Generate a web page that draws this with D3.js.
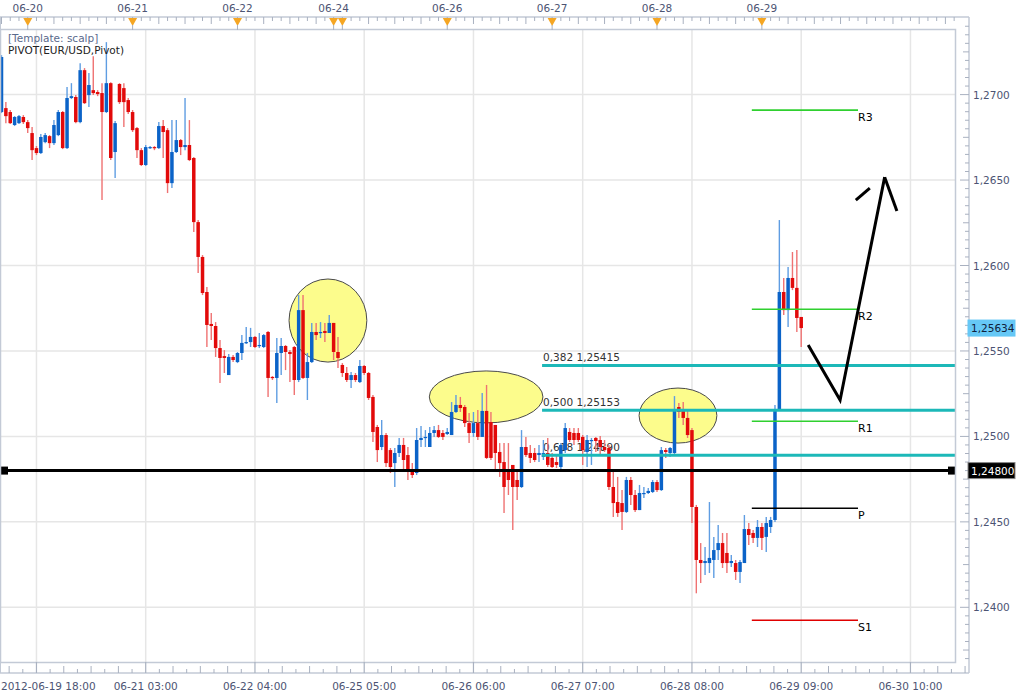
<!DOCTYPE html>
<html><head><meta charset="utf-8">
<script src="https://cdn.jsdelivr.net/npm/d3@7"></script>
<style>body{margin:0;background:#fff}svg{display:block}text{font-family:"DejaVu Sans",Verdana,sans-serif}</style>
</head><body><svg id="c" width="1024" height="697"></svg>
<script>
// ---- data (hourly EUR/USD bars, index 0 = first bar) ----
const open=[1.26898,1.26921,1.26898,1.26822,1.26833,1.26869,1.26839,1.26775,1.26687,1.26658,1.26722,1.26757,1.26716,1.26763,1.26898,1.26687,1.26980,1.26986,1.26839,1.27143,1.26997,1.27026,1.27015,1.27009,1.26898,1.27067,1.26664,1.27062,1.27038,1.26968,1.26898,1.26804,1.26675,1.26588,1.26687,1.26693,1.26687,1.26816,1.26792,1.26482,1.26664,1.26734,1.26693,1.26705,1.26629,1.26254,1.26050,1.25845,1.25658,1.25646,1.25517,1.25470,1.25359,1.25465,1.25435,1.25488,1.25547,1.25552,1.25582,1.25529,1.25523,1.25611,1.25348,1.25342,1.25488,1.25529,1.25494,1.25523,1.25330,1.25739,1.25342,1.25435,1.25611,1.25605,1.25617,1.25605,1.25664,1.25494,1.25418,1.25371,1.25330,1.25359,1.25318,1.25412,1.25371,1.25231,1.25055,1.24938,1.25008,1.24920,1.24844,1.24903,1.24950,1.24891,1.24803,1.24786,1.24979,1.24991,1.24938,1.25020,1.25037,1.25020,1.25014,1.25008,1.25143,1.25184,1.25172,1.25078,1.25020,1.25078,1.24997,1.25149,1.25084,1.25067,1.24909,1.24850,1.24803,1.24833,1.24745,1.24704,1.24938,1.24903,1.24903,1.24891,1.24880,1.24903,1.24874,1.24850,1.24821,1.24920,1.25026,1.25020,1.25020,1.24997,1.24909,1.24973,1.24991,1.24979,1.24938,1.24932,1.24704,1.24616,1.24610,1.24558,1.24745,1.24657,1.24569,1.24663,1.24669,1.24675,1.24733,1.24686,1.24920,1.24903,1.24903,1.25172,1.25154,1.25108,1.25037,1.24587,1.24277,1.24259,1.24259,1.24277,1.24335,1.24376,1.24318,1.24259,1.24259,1.24207,1.24259,1.24458,1.24435,1.24406,1.24470,1.24412,1.24470,1.24511,1.25154,1.25845,1.25739,1.25927,1.25869,1.25699];
const high=[1.27231,1.26956,1.26910,1.26874,1.26880,1.26880,1.26851,1.26810,1.26699,1.26769,1.26775,1.26763,1.26851,1.26910,1.26904,1.27044,1.27067,1.26997,1.27184,1.27155,1.27126,1.27225,1.27026,1.27067,1.27307,1.27073,1.26845,1.27067,1.27067,1.26980,1.26910,1.26810,1.26687,1.26705,1.26699,1.26699,1.26839,1.26851,1.26804,1.26851,1.26851,1.26740,1.26980,1.26851,1.26635,1.26266,1.26061,1.25874,1.25722,1.25669,1.25564,1.25505,1.25482,1.25476,1.25494,1.25593,1.25640,1.25635,1.25587,1.25605,1.25599,1.25617,1.25353,1.25576,1.25576,1.25535,1.25505,1.25529,1.25827,1.25827,1.25488,1.25664,1.25664,1.25669,1.25664,1.25710,1.25664,1.25582,1.25429,1.25406,1.25377,1.25371,1.25447,1.25418,1.25377,1.25242,1.25067,1.25096,1.25020,1.24932,1.24932,1.24991,1.24991,1.24938,1.24844,1.25049,1.25061,1.25037,1.25055,1.25061,1.25067,1.25037,1.25049,1.25201,1.25242,1.25231,1.25184,1.25137,1.25143,1.25154,1.25254,1.25301,1.25143,1.25067,1.24961,1.24961,1.24961,1.24833,1.24803,1.25037,1.24997,1.24950,1.24932,1.24950,1.24979,1.24991,1.24903,1.24891,1.24961,1.25078,1.25049,1.25049,1.25049,1.25008,1.25008,1.24991,1.24997,1.25002,1.24979,1.24950,1.24803,1.24763,1.24686,1.24763,1.24763,1.24686,1.24716,1.24704,1.24698,1.24745,1.24745,1.24938,1.24932,1.24938,1.25236,1.25196,1.25201,1.25154,1.25049,1.24599,1.24376,1.24353,1.24616,1.24412,1.24482,1.24435,1.24435,1.24306,1.24277,1.24277,1.24540,1.24493,1.24452,1.24511,1.24493,1.24529,1.24529,1.25184,1.26266,1.25927,1.25991,1.26079,1.26090,1.25699];
const low=[1.26892,1.26833,1.26828,1.26816,1.26828,1.26828,1.26775,1.26617,1.26646,1.26652,1.26716,1.26687,1.26705,1.26757,1.26681,1.26681,1.26974,1.26833,1.26833,1.26945,1.26927,1.26997,1.26991,1.26383,1.26892,1.26617,1.26512,1.26945,1.26810,1.26886,1.26781,1.26629,1.26582,1.26582,1.26681,1.26675,1.26681,1.26629,1.26424,1.26453,1.26658,1.26646,1.26675,1.26611,1.26196,1.25956,1.25827,1.25523,1.25564,1.25465,1.25312,1.25371,1.25359,1.25435,1.25429,1.25447,1.25541,1.25523,1.25517,1.25517,1.25517,1.25231,1.25330,1.25196,1.25359,1.25388,1.25318,1.25242,1.25318,1.25336,1.25213,1.25429,1.25564,1.25576,1.25552,1.25605,1.25447,1.25400,1.25348,1.25318,1.25283,1.25318,1.25312,1.25359,1.25213,1.24967,1.24850,1.24920,1.24821,1.24786,1.24704,1.24880,1.24792,1.24745,1.24757,1.24774,1.24938,1.24938,1.24938,1.24997,1.24991,1.24979,1.25008,1.25008,1.25137,1.25143,1.25055,1.24961,1.24997,1.24979,1.24997,1.24868,1.24862,1.24803,1.24763,1.24552,1.24657,1.24452,1.24628,1.24698,1.24880,1.24844,1.24850,1.24850,1.24862,1.24821,1.24815,1.24815,1.24809,1.24903,1.24967,1.24950,1.24967,1.24833,1.24821,1.24833,1.24909,1.24891,1.24909,1.24686,1.24529,1.24529,1.24452,1.24552,1.24599,1.24558,1.24569,1.24640,1.24663,1.24669,1.24675,1.24681,1.24874,1.24880,1.24897,1.25108,1.25067,1.24991,1.24493,1.24082,1.24142,1.24189,1.24201,1.24172,1.24277,1.24230,1.24201,1.24236,1.24160,1.24142,1.24259,1.24365,1.24376,1.24353,1.24335,1.24324,1.24435,1.24499,1.25149,1.25710,1.25640,1.25856,1.25611,1.25523];
const close=[1.27220,1.26874,1.26833,1.26869,1.26874,1.26839,1.26804,1.26675,1.26658,1.26752,1.26763,1.26716,1.26822,1.26898,1.26687,1.26980,1.26991,1.26839,1.27143,1.26950,1.27056,1.27009,1.27003,1.26898,1.27067,1.26629,1.26833,1.26956,1.26956,1.26898,1.26792,1.26675,1.26588,1.26693,1.26693,1.26687,1.26816,1.26781,1.26482,1.26664,1.26734,1.26693,1.26705,1.26617,1.26254,1.26050,1.25839,1.25652,1.25646,1.25517,1.25459,1.25459,1.25465,1.25447,1.25488,1.25547,1.25552,1.25582,1.25523,1.25535,1.25593,1.25342,1.25342,1.25488,1.25529,1.25494,1.25482,1.25330,1.25739,1.25342,1.25435,1.25611,1.25593,1.25611,1.25605,1.25664,1.25494,1.25459,1.25371,1.25330,1.25359,1.25330,1.25412,1.25371,1.25225,1.25026,1.24920,1.25008,1.24844,1.24821,1.24903,1.24950,1.24862,1.24803,1.24774,1.24979,1.24991,1.24997,1.25020,1.25037,1.24997,1.24997,1.25026,1.25143,1.25184,1.25166,1.25078,1.25020,1.25078,1.24997,1.25149,1.24874,1.24874,1.24903,1.24844,1.24704,1.24745,1.24704,1.24704,1.24938,1.24891,1.24874,1.24862,1.24903,1.24903,1.24833,1.24821,1.24833,1.24950,1.25049,1.24979,1.24979,1.24979,1.24920,1.24979,1.24979,1.24973,1.24938,1.24920,1.24704,1.24610,1.24552,1.24558,1.24745,1.24657,1.24569,1.24669,1.24669,1.24681,1.24733,1.24686,1.24920,1.24909,1.24932,1.25160,1.25143,1.25108,1.25008,1.24587,1.24277,1.24259,1.24271,1.24289,1.24335,1.24376,1.24259,1.24259,1.24271,1.24207,1.24265,1.24458,1.24423,1.24406,1.24470,1.24406,1.24493,1.24511,1.25154,1.25845,1.25739,1.25927,1.25869,1.25693,1.25634];

const priceTicks=[1.2400,1.2450,1.2500,1.2550,1.2600,1.2650,1.2700];
const bottomTickIdx=[8,33,58,83,108,133,158,183,208];
const bottomTickLabels=["2012-06-19 18:00","06-21 03:00","06-22 04:00","06-25 05:00","06-26 06:00","06-27 07:00","06-28 08:00","06-29 09:00","06-30 10:00"];
const dayMarkIdx=[6,30,54,76,78,102,126,150,174];
const dayMarkLabels=["06-20","06-21","06-22","06-24","","06-26","06-27","06-28","06-29"];

const hLinePrice=1.24800;
const lastPrice=1.25634;
const fibRatios=["0,382","0,500","0,618"];
const fibPrices=[1.25415,1.25153,1.24890];
const fibStartIdx=123.7;
const pivotNames=["R3","R2","R1","P","S1"];
const pivotPrices=[1.26909,1.25744,1.25089,1.24580,1.23924];
const pivotColors=["#2fd02f","#2fd02f","#2fd02f","#000000","#e00000"];
const pivotRange=[171.7,196.0];
// annotations: ellipses [centerIdx, centerPrice, radiusBars, radiusPrice]
const ellipses=[[74.7,1.25678,8.9,0.00243],[110.9,1.25231,13.0,0.00152],[154.8,1.25122,8.9,0.00161]];
const arrowShaft=[[184.6,1.25535],[191.9,1.25213],[202.1,1.26517]];
const arrowBarbR=[[202.1,1.26517],[204.9,1.26319]];
const arrowBarbL=[[195.5,1.26383],[198.7,1.26453]];

// ---- layout ----
const svg=d3.select("#c");
const L=0,R=956,T=30,B=662;
const x=d3.scaleLinear().domain([0,218.4]).range([1.5,955.9]);
const y=d3.scaleLinear().domain([1.23680,1.27378]).range([B,T]);
const fmt=v=>d3.format(".4f")(v).replace(".",",");
const fmt5=v=>d3.format(".5f")(v).replace(".",",");
const axisCol="#4d5473", frameCol="#c3cad6";

svg.append("defs").append("clipPath").attr("id","pc").append("rect").attr("x",L).attr("y",T).attr("width",R-L).attr("height",B-T);

// gridlines
const grid=svg.append("g");
grid.selectAll(".hg").data(priceTicks).join("line").attr("x1",L).attr("x2",R).attr("y1",d=>y(d)).attr("y2",d=>y(d)).attr("stroke","#e6e6e6").attr("stroke-width",1.5);
grid.selectAll(".vg").data(bottomTickIdx.filter(i=>x(i)<R)).join("line").attr("x1",d=>x(d)).attr("x2",d=>x(d)).attr("y1",T).attr("y2",B).attr("stroke","#e6e6e6").attr("stroke-width",1.5);

const plot=svg.append("g").attr("clip-path","url(#pc)");

// ellipses
plot.selectAll(".el").data(ellipses).join("ellipse")
 .attr("cx",d=>x(d[0])).attr("cy",d=>y(d[1]))
 .attr("rx",d=>x(d[2])-x(0)).attr("ry",d=>y(0)-y(d[3]))
 .attr("fill","#fcfc8c").attr("stroke","#4a4a4a").attr("stroke-width",1);

// fib labels (under candles)
plot.selectAll(".fl").data(fibPrices).join("text")
 .attr("x",x(fibStartIdx)+1).attr("y",d=>y(d)-4).attr("font-size",10.5).attr("fill","#333")
 .text((d,i)=>fibRatios[i]+" "+fmt5(d));

// candles
const idx=d3.range(open.length);
const upC="#0b63c8", dnC="#e20a0a", upW="#5f9de2", dnW="#ef7272";
plot.selectAll(".wk").data(idx).join("line")
 .attr("x1",i=>x(i)).attr("x2",i=>x(i)).attr("y1",i=>y(high[i])).attr("y2",i=>y(low[i]))
 .attr("stroke",i=>close[i]>=open[i]?upW:dnW).attr("stroke-width",1.4);
plot.selectAll(".bd").data(idx).join("rect")
 .attr("x",i=>x(i)-1.75).attr("width",3.5)
 .attr("y",i=>y(Math.max(open[i],close[i])))
 .attr("height",i=>Math.max(1.2,Math.abs(y(open[i])-y(close[i]))))
 .attr("fill",i=>close[i]>=open[i]?upC:dnC);

// fib lines
plot.selectAll(".fib").data(fibPrices).join("line")
 .attr("x1",x(fibStartIdx)).attr("x2",R).attr("y1",d=>y(d)).attr("y2",d=>y(d))
 .attr("stroke","#1cb8b8").attr("stroke-width",3);

// pivot lines
plot.selectAll(".pv").data(pivotPrices).join("line")
 .attr("x1",x(pivotRange[0])).attr("x2",x(pivotRange[1])).attr("y1",d=>y(d)).attr("y2",d=>y(d))
 .attr("stroke",(d,i)=>pivotColors[i]).attr("stroke-width",1.6);
plot.selectAll(".pl").data(pivotPrices).join("text")
 .attr("x",x(pivotRange[1])).attr("y",d=>y(d)+11).attr("font-size",11).attr("fill","#000")
 .text((d,i)=>pivotNames[i]);

// horizontal line 1.24800
plot.append("line").attr("x1",L+4).attr("x2",R-4).attr("y1",y(hLinePrice)).attr("y2",y(hLinePrice)).attr("stroke","#000").attr("stroke-width",3);
plot.selectAll(".sq").data([L+4,R-4]).join("rect").attr("x",d=>d-4).attr("y",y(hLinePrice)-4).attr("width",8).attr("height",8).attr("fill","#000");

// arrow
const ln=d3.line().x(d=>x(d[0])).y(d=>y(d[1]));
[arrowShaft,arrowBarbR,arrowBarbL].forEach(p=>plot.append("path").attr("d",ln(p)).attr("fill","none").attr("stroke","#000").attr("stroke-width",3).attr("stroke-linejoin","miter"));

// frame
svg.append("rect").attr("x",L+0.5).attr("y",T-0.5).attr("width",R-L-1).attr("height",B-T+1).attr("fill","none").attr("stroke",frameCol).attr("stroke-width",1.5);
const AX=969, TOPY=17, BOTY=673;
svg.append("line").attr("x1",0).attr("x2",AX).attr("y1",TOPY).attr("y2",TOPY).attr("stroke",frameCol).attr("stroke-width",1.5);
svg.append("line").attr("x1",0).attr("x2",AX).attr("y1",BOTY).attr("y2",BOTY).attr("stroke",frameCol).attr("stroke-width",1.5);
svg.append("line").attr("x1",AX).attr("x2",AX).attr("y1",TOPY).attr("y2",BOTY).attr("stroke",frameCol).attr("stroke-width",1.5);
svg.append("line").attr("x1",0.5).attr("x2",0.5).attr("y1",TOPY).attr("y2",BOTY).attr("stroke",frameCol).attr("stroke-width",1);

// top axis ticks
const topT=d3.range(0,219,2).filter(i=>x(i)<AX);
svg.selectAll(".tt").data(topT).join("line").attr("x1",i=>x(i)).attr("x2",i=>x(i)).attr("y1",TOPY).attr("y2",i=>TOPY+(i%6===0?7:4)).attr("stroke","#a9b1c0").attr("stroke-width",1);
svg.selectAll(".tri").data(dayMarkIdx).join("path")
 .attr("d",i=>`M${x(i)-4.5},${TOPY+1}L${x(i)+4.5},${TOPY+1}L${x(i)},${TOPY+9}Z`).attr("fill","#f5a623");
svg.selectAll(".trl").data(dayMarkIdx).join("line").attr("x1",i=>x(i)).attr("x2",i=>x(i)).attr("y1",TOPY+8).attr("y2",T).attr("stroke","#a9b1c0").attr("stroke-width",1);
svg.selectAll(".tl").data(dayMarkIdx).join("text").attr("x",i=>x(i)).attr("y",12).attr("text-anchor","middle").attr("font-size",10.5).attr("fill",axisCol).text((d,i)=>dayMarkLabels[i]);

// bottom axis ticks
const minor=[];
for(let k=-1;k<bottomTickIdx.length;k++){for(let j=1;j<8;j++){const i=8+25*k+25*j/8; if(x(i)>0&&x(i)<AX) minor.push([i,j]);}}
svg.selectAll(".bmt").data(minor).join("line").attr("x1",d=>x(d[0])).attr("x2",d=>x(d[0])).attr("y1",BOTY).attr("y2",d=>BOTY-(d[1]%2===0?7:4)).attr("stroke","#a9b1c0").attr("stroke-width",1);
svg.selectAll(".bMt").data(bottomTickIdx).join("line").attr("x1",d=>x(d)).attr("x2",d=>x(d)).attr("y1",B).attr("y2",BOTY).attr("stroke","#a9b1c0").attr("stroke-width",1.2);
svg.selectAll(".bl").data(bottomTickIdx).join("text").attr("x",(d,i)=>i===0?1:x(d)).attr("y",690).attr("text-anchor",(d,i)=>i===0?"start":"middle").attr("font-size",10.5).attr("fill",axisCol).text((d,i)=>bottomTickLabels[i]);

// right axis
const minorP=d3.range(0,75).map(k=>1.2370+k*0.0005).filter(v=>y(v)>TOPY&&y(v)<BOTY);
svg.selectAll(".rmt").data(minorP).join("line").attr("x1",AX).attr("x2",v=>{const m=Math.round(v*10000)%50; return AX-(m===0?9:(m===25?6:4));}).attr("y1",v=>y(v)).attr("y2",v=>y(v)).attr("stroke","#a9b1c0").attr("stroke-width",1);
svg.selectAll(".rl").data(priceTicks).join("text").attr("x",AX+4).attr("y",d=>y(d)+4).attr("font-size",10.5).attr("fill",axisCol).text(fmt);

// price badges
function badge(v,bg,fg,stroke){
 const g=svg.append("g");
 g.append("rect").attr("x",AX-1).attr("y",y(v)-8).attr("width",47).attr("height",16).attr("fill",bg).attr("stroke",stroke).attr("stroke-width",1);
 g.append("text").attr("x",AX+2).attr("y",y(v)+4).attr("font-size",10.5).attr("fill",fg).text(fmt5(v));
}
badge(lastPrice,"#66c8f6","#10203a","#66c8f6");
badge(hLinePrice,"#000","#fff","#888");

// legend text
svg.append("text").attr("x",8).attr("y",42).attr("font-size",10.5).attr("fill","#5a6a8c").text("[Template: scalp]");
svg.append("text").attr("x",8).attr("y",54).attr("font-size",10.5).attr("fill","#222").text("PIVOT(EUR/USD,Pivot)");
</script></body></html>
